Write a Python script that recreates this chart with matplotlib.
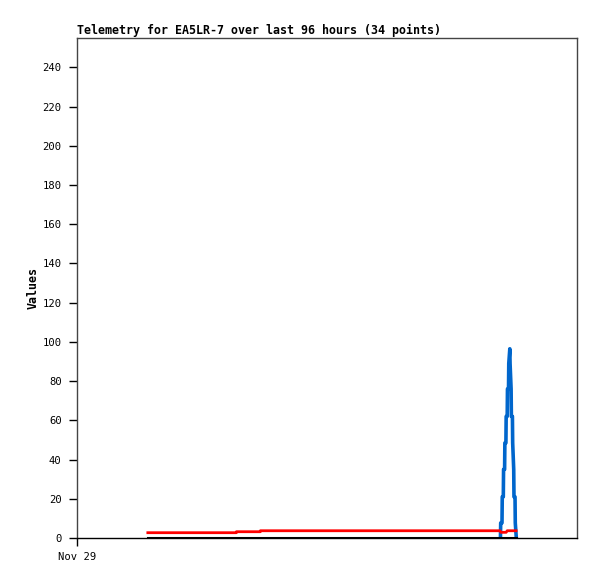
import numpy as np
import matplotlib.pyplot as plt

# hours since Nov 29 00:00 (axis spans 96 hours)
black_t = [13.6, 84.3]
black_v = [0, 0]

red_t = [13.6, 30.6, 30.6, 35.2, 35.2, 81.2, 81.4, 82.4, 82.6, 84.3]
red_v = [2.7, 2.7, 3.2, 3.2, 3.7, 3.7, 2.9, 2.9, 3.7, 3.7]

blue_t = [81.3, 81.35, 81.6, 81.65, 81.85, 81.9, 82.1, 82.15, 82.35, 82.4, 82.6, 82.65, 82.85, 82.9,
          83.1, 83.15, 83.35, 83.4, 83.6, 83.65, 83.85, 83.9, 84.1, 84.15, 84.35]
blue_v = [0, 7.7, 7.7, 21, 21, 35, 35, 48.5, 48.5, 62, 62, 76, 76, 89, 96.5, 89, 76, 62, 62, 48.5,
          35, 21, 21, 7.7, 0]

yticks = list(range(0, 241, 20))
xtick_labels = ["Nov 29"]

fig = plt.figure(figsize=(5.97, 5.79), dpi=100)
ax = fig.add_axes([77 / 597, 41 / 579, 500 / 597, 500 / 579])

ax.plot(blue_t, blue_v, color="#0066cc", linewidth=2.6)
ax.plot(red_t, red_v, color="#ff0000", linewidth=2.0)
ax.plot(black_t, black_v, color="black", linewidth=2.2)

ax.set_xlim(0, 96)
ax.set_ylim(0, 255)
ax.set_yticks(yticks)
ax.set_xticks([0])
ax.set_xticklabels(xtick_labels)

for sp in ax.spines.values():
    sp.set_color("#444444")
    sp.set_linewidth(1.0)
ax.spines["bottom"].set_color("black")

ax.tick_params(axis="both", direction="out", length=6, width=1, color="black",
               labelsize=7.6)
ax.tick_params(axis="y", pad=5)
ax.tick_params(axis="x", pad=4)
for lab in ax.get_xticklabels() + ax.get_yticklabels():
    lab.set_family("DejaVu Sans Mono")

ax.set_ylabel("Values", family="DejaVu Sans Mono", fontweight="bold", fontsize=8.4, labelpad=2)
ax.set_title("Telemetry for EA5LR-7 over last 96 hours (34 points)",
             family="DejaVu Sans Mono", fontweight="bold", fontsize=8.4, loc="left", pad=3)

fig.savefig("out.png", dpi=100)
